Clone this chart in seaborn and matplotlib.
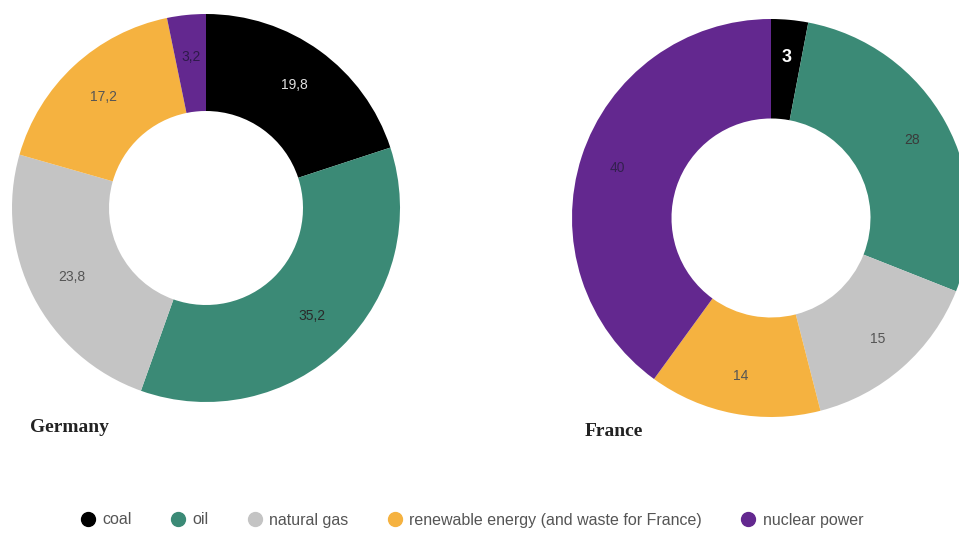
import matplotlib
matplotlib.use("Agg")
import matplotlib.pyplot as plt
from matplotlib.lines import Line2D
import seaborn as sns

categories = ["coal", "oil", "natural gas", "renewable energy (and waste for France)", "nuclear power"]
germany = [19.8, 35.2, 23.8, 17.2, 3.2]
france = [3, 28, 15, 14, 40]
germany_labels = ["19,8", "35,2", "23,8", "17,2", "3,2"]
france_labels = ["3", "28", "15", "14", "40"]
colors = ["#000000", "#3b8a76", "#c4c4c4", "#f5b240", "#63288f"]

sns.set_theme(style="white")
plt.rcParams['font.family'] = ['Liberation Sans', 'DejaVu Sans']

W, H = 959, 544
fig = plt.figure(figsize=(W / 100, H / 100), dpi=100)
fig.patch.set_facecolor("white")


def px_axes(cx, cy, r):
    return fig.add_axes([(cx - r) / W, (H - cy - r) / H, 2 * r / W, 2 * r / H])


def donut(ax, values, labels, text_colors, sizes, ld):
    wedges, texts = ax.pie(values, colors=colors, startangle=90, counterclock=False,
                           labels=labels, labeldistance=ld,
                           wedgeprops=dict(width=0.5, edgecolor="none"),
                           textprops=dict(ha="center", va="center"))
    for t, c, s in zip(texts, text_colors, sizes):
        t.set_color(c)
        t.set_fontsize(s)
    ax.set_xlim(-1, 1)
    ax.set_ylim(-1, 1)
    ax.set_aspect("equal")
    ax.axis("off")


ax1 = px_axes(206, 208, 194)
donut(ax1, germany, germany_labels,
      ["#e0e0e0", "#2a2a2a", "#555555", "#555555", "#2e1a4a"],
      [10, 10, 10, 10, 10], 0.78)

ax2 = px_axes(771, 218, 199)
donut(ax2, france, france_labels,
      ["#ffffff", "#3a3a3a", "#555555", "#555555", "#33204f"],
      [13, 10, 10, 10, 10], 0.81)
ax2.texts[0].set_fontweight("bold")

fig.text(30 / W, 1 - 428 / H, "Germany", family=["Liberation Serif", "DejaVu Serif"],
         fontweight="bold", fontsize=14, color="#222222", va="center", ha="left")
fig.text(585 / W, 1 - 432 / H, "France", family=["Liberation Serif", "DejaVu Serif"],
         fontweight="bold", fontsize=14, color="#222222", va="center", ha="left")

handles = [Line2D([0], [0], marker="o", linestyle="none", markersize=10,
                  markerfacecolor=c, markeredgecolor=c) for c in colors]
leg = fig.legend(handles, categories, loc="center", bbox_to_anchor=(0.491, 1 - 520 / H),
                 ncol=5, frameon=False, fontsize=11.5, handletextpad=0.3, columnspacing=2.3,
                 handlelength=1.2)
for t in leg.get_texts():
    t.set_color("#555555")

fig.savefig("out.png", dpi=100, facecolor="white")
